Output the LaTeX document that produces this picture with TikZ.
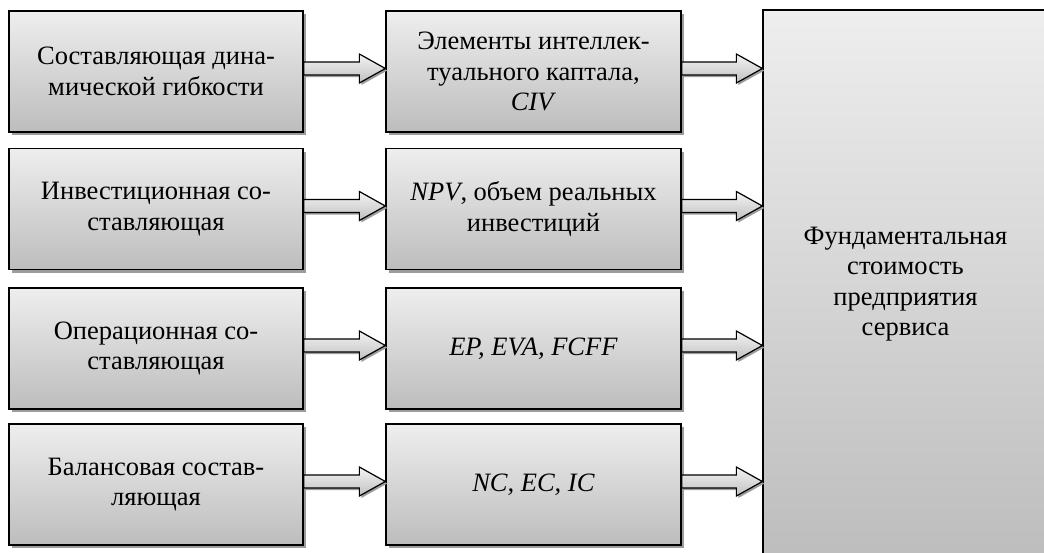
\documentclass[tikz,border=0pt]{standalone}
\usepackage{fontspec}
\setmainfont{Liberation Serif}
\usetikzlibrary{shadows,calc}
\definecolor{boxtop}{HTML}{EEEEEE}
\definecolor{boxbot}{HTML}{BDBDBD}
\definecolor{shadowgray}{HTML}{9C9C9C}
\definecolor{arrtop}{HTML}{F4F4F4}
\definecolor{arrbot}{HTML}{C0C0C0}
\tikzset{
  box/.style={draw=black, line width=1.3pt, top color=boxtop, bottom color=boxbot,
    drop shadow={shadow xshift=3pt, shadow yshift=-3pt, fill=shadowgray, opacity=1},
    align=center, inner sep=4pt, text=black, font=\fontsize{26.5}{30.5}\selectfont},
  lbox/.style={box, minimum width=294pt, minimum height=121pt},
  arrowshape/.style={draw=black, line width=1.2pt, line join=miter, top color=arrtop, bottom color=arrbot,
    drop shadow={shadow xshift=2pt, shadow yshift=-2pt, fill=shadowgray, opacity=1}}
}
\newcommand\blockarr[2]{%
  \path[arrowshape] let \p1=($(#1.east)+(0,-3)$), \p2=($(#2.west)+(0,-3)$) in
    (\x1,\y1+6.5pt) -- (\x2-26pt,\y1+6.5pt) -- (\x2-26pt,\y1+14.5pt) -- (\x2,\y1)
    -- (\x2-26pt,\y1-14.5pt) -- (\x2-26pt,\y1-6.5pt) -- (\x1,\y1-6.5pt) -- cycle;
}
\begin{document}
\begin{tikzpicture}[x=1pt,y=-1pt]
\useasboundingbox (0,0) rectangle (1044,552);
\clip (0,0) rectangle (1044,552);
\fill[white] (0,0) rectangle (1044,552);

\node[box, minimum width=285pt, minimum height=548pt] (R) at (905.5,284)
  {Фундаментальная\\стоимость\\предприятия\\сервиса};

\node[lbox] (L1) at (156,71.5) {Составляющая дина-\\мической гибкости};
\node[lbox] (L2) at (156,209) {Инвестиционная со-\\ставляющая};
\node[lbox] (L3) at (156,348.5) {Операционная со-\\ставляющая};
\node[lbox] (L4) at (156,484.5) {Балансовая состав-\\ляющая};

\node[lbox, minimum width=295pt] (M1) at (533.5,71.5) {Элементы интеллек-\\туального каптала,\\\textit{CIV}};
\node[lbox, minimum width=295pt] (M2) at (533.5,209) {\textit{NPV}, объем реальных\\инвестиций};
\node[lbox, minimum width=295pt] (M3) at (533.5,348.5) {\textit{EP, EVA, FCFF}};
\node[lbox, minimum width=295pt] (M4) at (533.5,484.5) {\textit{NC, EC, IC}};

\coordinate (R1) at (R.west |- M1.east);
\coordinate (R2) at (R.west |- M2.east);
\coordinate (R3) at (R.west |- M3.east);
\coordinate (R4) at (R.west |- M4.east);

\blockarr{L1}{M1}
\blockarr{L2}{M2}
\blockarr{L3}{M3}
\blockarr{L4}{M4}
\blockarr{M1}{R1}
\blockarr{M2}{R2}
\blockarr{M3}{R3}
\blockarr{M4}{R4}
\end{tikzpicture}
\end{document}
